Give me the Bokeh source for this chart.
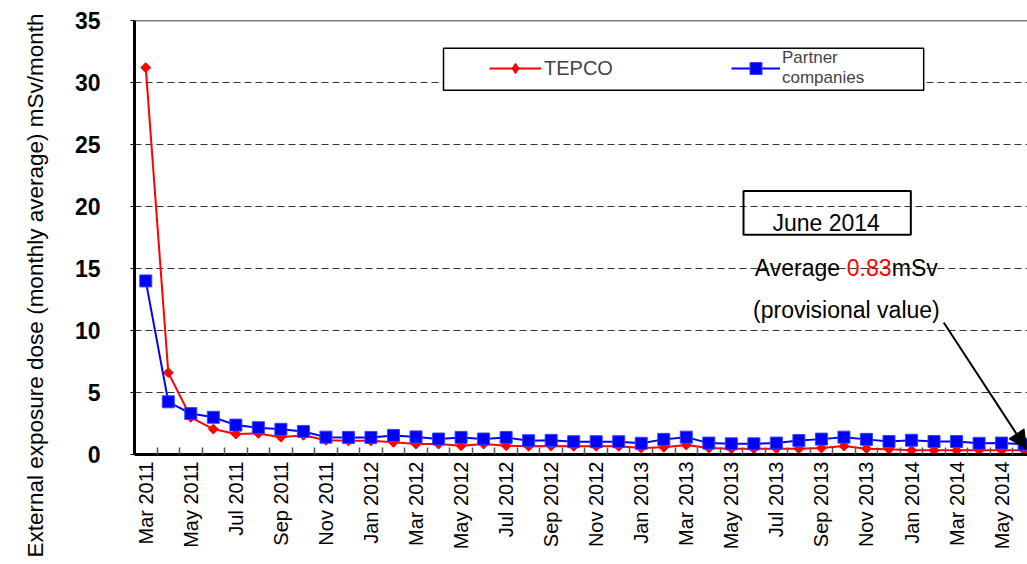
import math
from bokeh.plotting import figure
from bokeh.models import (Range1d, FixedTicker, Span, BoxAnnotation, Label, Arrow,
                          NormalHead, Legend, LegendItem, ColumnDataSource, Title)
from bokeh.embed import file_html
from bokeh.resources import INLINE

months = ["Mar 2011", "Apr 2011", "May 2011", "Jun 2011", "Jul 2011", "Aug 2011",
          "Sep 2011", "Oct 2011", "Nov 2011", "Dec 2011",
          "Jan 2012", "Feb 2012", "Mar 2012", "Apr 2012", "May 2012", "Jun 2012",
          "Jul 2012", "Aug 2012", "Sep 2012", "Oct 2012", "Nov 2012", "Dec 2012",
          "Jan 2013", "Feb 2013", "Mar 2013", "Apr 2013", "May 2013", "Jun 2013",
          "Jul 2013", "Aug 2013", "Sep 2013", "Oct 2013", "Nov 2013", "Dec 2013",
          "Jan 2014", "Feb 2014", "Mar 2014", "Apr 2014", "May 2014", "Jun 2014"]

tepco = [31.2, 6.6, 3.0, 2.05, 1.65, 1.7, 1.4, 1.55, 1.15, 1.1,
         1.1, 0.98, 0.84, 0.84, 0.71, 0.84, 0.71, 0.66, 0.68, 0.66,
         0.66, 0.66, 0.52, 0.58, 0.76, 0.52, 0.47, 0.47, 0.47, 0.47,
         0.52, 0.68, 0.47, 0.42, 0.34, 0.34, 0.34, 0.34, 0.34, 0.34]

partner = [14.0, 4.25, 3.3, 3.0, 2.37, 2.16, 2.03, 1.86, 1.4, 1.38,
           1.38, 1.54, 1.42, 1.25, 1.38, 1.25, 1.38, 1.11, 1.14, 1.03,
           1.03, 1.03, 0.9, 1.22, 1.4, 0.92, 0.86, 0.86, 0.92, 1.13,
           1.24, 1.4, 1.22, 1.05, 1.15, 1.05, 1.05, 0.9, 0.92, 0.83]

y_ticks = [0, 5, 10, 15, 20, 25, 30, 35]

FONT = "Liberation Sans"

idx = list(range(len(months)))
src = ColumnDataSource(dict(x=idx, tepco=tepco, partner=partner))

p = figure(width=1027, height=560, output_backend="svg", toolbar_location=None,
           x_range=Range1d(-0.5, 39.15), y_range=Range1d(0, 35),
           min_border_left=131, min_border_top=20, min_border_right=0,
           min_border_bottom=106)
p.outline_line_color = None
p.background_fill_color = "white"
p.border_fill_color = "white"

# x axis
xa = p.xaxis[0]
xa.ticker = FixedTicker(ticks=idx[::2], minor_ticks=[i + 0.5 for i in idx])
xa.major_label_overrides = {i: months[i] for i in idx[::2]}
xa.major_label_orientation = math.pi / 2
xa.major_tick_in = 0
xa.major_tick_out = 0
xa.minor_tick_in = 7
xa.minor_tick_out = 0
xa.minor_tick_line_color = "#555555"
xa.minor_tick_line_width = 1.5
xa.axis_line_width = 3
xa.axis_line_color = "black"
xa.major_label_text_font = FONT
xa.major_label_text_font_size = "20px"
xa.major_label_text_color = "black"
xa.major_label_standoff = 7

# y axis
ya = p.yaxis[0]
ya.ticker = FixedTicker(ticks=y_ticks)
ya.major_label_text_font = FONT
ya.major_label_text_font_size = "23px"
ya.major_label_text_font_style = "bold"
ya.major_label_text_color = "black"
ya.major_label_standoff = 30
ya.major_tick_out = 4
ya.major_tick_in = 0
ya.major_tick_line_color = "black"
ya.minor_tick_out = 0
ya.minor_tick_in = 0
ya.axis_line_width = 3
ya.axis_line_color = "black"

# y axis title, as a side title so it can run past the frame like the reference
p.add_layout(Title(text="External exposure dose (monthly average) mSv/month",
                   align="right", offset=-7, vertical_align="top", standoff=44,
                   text_font=FONT, text_font_size="22.5px", text_font_style="normal",
                   text_color="black"), "left")

p.xgrid.visible = False
p.ygrid.grid_line_color = "#333333"
p.ygrid.grid_line_dash = "7 4"
p.ygrid.grid_line_width = 1

p.add_layout(Span(location=35, dimension="width", line_color="black", line_width=1.5))

# series
r_t_line = p.line("x", "tepco", source=src, line_color="red", line_width=2)
r_t_pts = p.scatter("x", "tepco", source=src, marker="square", angle=math.pi / 4,
                    size=7, fill_color="red", line_color="red")
r_p_line = p.line("x", "partner", source=src, line_color="#0000ff", line_width=2)
r_p_pts = p.scatter("x", "partner", source=src, marker="square", size=12,
                    fill_color="#0000ff", line_color="#3344ff", line_width=1)

# hidden diamond renderer of the same series, used only for the legend sample
r_t_key = p.scatter("x", "tepco", source=src, marker="diamond", fill_color="red",
                    line_color="red", visible=False)

# legend box
p.add_layout(BoxAnnotation(left=13.22, right=34.54, bottom=29.38, top=32.76,
                           fill_color="white", fill_alpha=1,
                           line_color="black", line_alpha=1, line_width=1.5))

leg1 = Legend(items=[LegendItem(label="TEPCO", renderers=[r_t_line, r_t_key])],
              location=(355, 373), padding=0, margin=0, spacing=0,
              border_line_color=None, background_fill_alpha=0,
              inactive_fill_alpha=0,
              glyph_width=52, glyph_height=26, label_standoff=3, label_height=20,
              label_text_font=FONT, label_text_font_size="20px")
leg2 = Legend(items=[LegendItem(label="Partner\ncompanies", renderers=[r_p_line, r_p_pts])],
              location=(597, 366), padding=0, margin=0, spacing=0,
              border_line_color=None, background_fill_alpha=0,
              inactive_fill_alpha=0,
              glyph_width=49, glyph_height=30, label_standoff=2, label_height=20,
              label_text_font=FONT, label_text_font_size="17px")
p.add_layout(leg1)
p.add_layout(leg2)

# annotation
p.add_layout(BoxAnnotation(left=26.54, right=33.97, bottom=17.72, top=21.26,
                           fill_alpha=0, line_color="black", line_alpha=1, line_width=2))
p.add_layout(Label(x=30.21, y=18.63, text="June 2014", text_align="center",
                   text_baseline="alphabetic", text_font=FONT, text_font_size="23px",
                   text_color="black"))
p.add_layout(Label(x=27.04, y=15.05, text="Average", text_align="left",
                   text_baseline="alphabetic", text_font=FONT, text_font_size="23px",
                   text_color="black"))
p.add_layout(Label(x=27.04, y=15.05, x_offset=92, text="0.83", text_align="left",
                   text_baseline="alphabetic", text_font=FONT, text_font_size="23px",
                   text_color="red"))
p.add_layout(Label(x=27.04, y=15.05, x_offset=137, text="mSv", text_align="left",
                   text_baseline="alphabetic", text_font=FONT, text_font_size="23px",
                   text_color="black"))
p.add_layout(Label(x=31.11, y=11.67, text="(provisional value)", text_align="center",
                   text_baseline="alphabetic", text_font=FONT, text_font_size="23px",
                   text_color="black"))
p.add_layout(Arrow(end=NormalHead(size=18, fill_color="black", line_color="black"),
                   x_start=35.43, y_start=10.65, x_end=39.1, y_end=0.45,
                   line_width=2, line_color="black"))

open("out.html", "w").write(file_html(p, INLINE))
